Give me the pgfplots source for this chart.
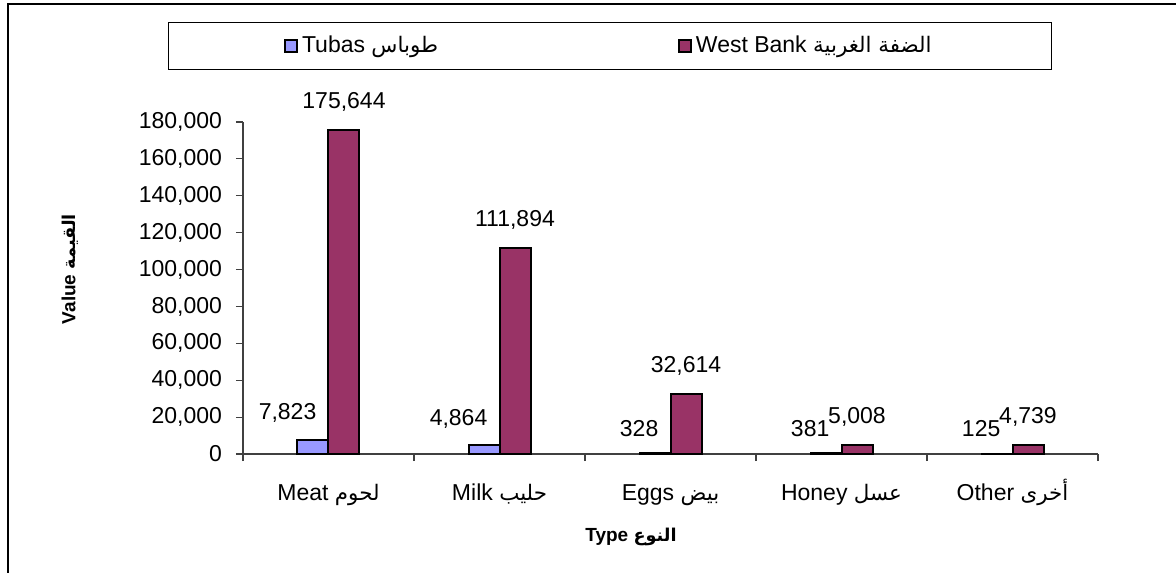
\documentclass[border=0pt]{standalone}
\usepackage{fontspec}
\setmainfont{Liberation Sans}
\newfontfamily\arabicfont[Script=Arabic, Scale=0.93]{DejaVu Sans}
\TeXXeTstate=1
\usepackage{pgfplots}
\pgfplotsset{compat=1.18}
\definecolor{tubas}{HTML}{9999FF}
\definecolor{wb}{HTML}{993366}
\newcommand{\ar}[1]{{\arabicfont\beginR #1\endR}}
\pgfplotsset{sqlegend/.style={legend image code/.code={\draw[##1, line width=0.9pt] (0pt,-3pt) rectangle (6pt,3pt);}}}
\begin{document}
\fontsize{11.5}{13.8}\selectfont
\begin{tikzpicture}
\begin{axis}[
  at={(0,0)}, anchor=south west,
  scale only axis, width=427.5pt, height=166pt,
  ybar=0pt, bar width=15.5pt,
  xmin=-0.5, xmax=4.5, ymin=0, ymax=180000,
  axis x line*=bottom, axis y line*=left,
  axis line style={black!75, line width=0.6pt},
  xtick={0,1,2,3,4},
  xticklabels={Meat \ar{لحوم}, Milk \ar{حليب}, Eggs \ar{بيض}, Honey \ar{عسل}, Other \ar{أخرى}},
  minor xtick={-0.5,0.5,1.5,2.5,3.5,4.5},
  tick align=outside,
  major tick length=3.5pt, minor tick length=3.5pt,
  tick style={black!75, line width=0.6pt},
  major x tick style={draw=none},
  ytick={0,20000,40000,60000,80000,100000,120000,140000,160000,180000},
  scaled y ticks=false,
  /pgf/number format/fixed,
  /pgf/number format/precision=0,
  /pgf/number format/1000 sep={,},
  /pgf/number format/assume math mode=true,
  yticklabel style={xshift=-3pt},
  xticklabel style={anchor=base, yshift=-19.5pt},
  xlabel={Type \ar{النوع}},
  ylabel={Value \ar{القيمة}},
  label style={font=\bfseries\fontsize{9.5}{11}\selectfont},
  xlabel style={at={(axis description cs:0.4538,-0.25)}, anchor=center},
  ylabel style={at={(axis description cs:-0.2023,0.557)}, anchor=center},
  nodes near coords={\pgfmathprintnumber[fixed,precision=0,1000 sep={,},assume math mode=true]{\pgfplotspointmeta}},
  legend columns=2,
  legend style={at={(axis description cs:0.4292,1.301)}, anchor=north,
    draw=black, line width=0.5pt, inner xsep=58pt, inner ysep=4.8pt,
    /tikz/every even column/.append style={column sep=118pt}},
]
\addplot[fill=tubas, draw=black, line width=1pt, sqlegend,
  every node near coord/.append style={anchor=south east, xshift=6pt, yshift=4pt}]
  coordinates {(0,7823) (1,4864) (2,328) (3,381) (4,125)};
\addlegendentry{Tubas \ar{طوباس}}
\addplot[fill=wb, draw=black, line width=1pt, sqlegend,
  every node near coord/.append style={anchor=south, yshift=5pt}]
  coordinates {(0,175644) (1,111894) (2,32614) (3,5008) (4,4739)};
\addlegendentry{West Bank \ar{الضفة الغربية}}
\end{axis}
\pgfresetboundingbox
\useasboundingbox (-121.5pt,-59pt) rectangle (466.5pt,227pt);
\draw[line width=1pt] (-117.5pt,-60pt) -- (-117.5pt,225pt) -- (467pt,225pt);
\end{tikzpicture}
\end{document}
